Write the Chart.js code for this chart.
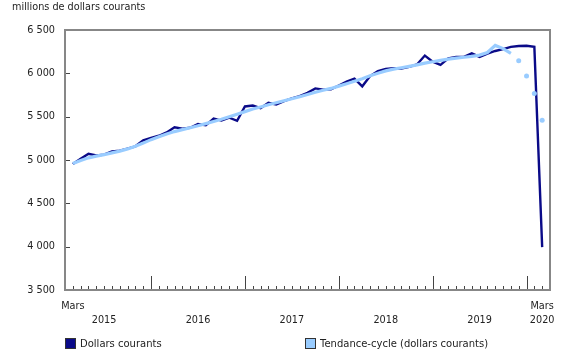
<!DOCTYPE html>
<html>
<head>
<meta charset="utf-8">
<script src="https://cdn.jsdelivr.net/npm/chart.js@4.4.0/dist/chart.umd.min.js"></script>
<style>
  body { margin: 0; background: #fff; font-family: "DejaVu Sans", Verdana, sans-serif; color: #222; }
  #wrap { position: relative; width: 580px; height: 360px; }
  #chart { position: absolute; left: 0; top: 0; }
  #unit { position: absolute; left: 12px; top: 1px; font-size: 9.7px; }
  .leg { position: absolute; top: 338px; font-size: 10px; display: flex; align-items: center; }
  .leg .box { width: 11px; height: 11px; border: 1px solid #333; box-sizing: border-box; margin-right: 4px; }
</style>
</head>
<body>
<div id="wrap">
  <canvas id="chart" width="580" height="360"></canvas>
  <div id="unit">millions de dollars courants</div>
  <div class="leg" style="left:65px"><span class="box" style="background:#0a0a88"></span>Dollars courants</div>
  <div class="leg" style="left:305px"><span class="box" style="background:#99ccff"></span>Tendance-cycle (dollars courants)</div>
</div>
<script>
// mois : index 0 = mars 2015 ... index 60 = mars 2020
const dollarsCourants = [
  4955, 5013, 5072, 5052, 5062, 5098, 5108, 5132, 5158, 5228,
  5255, 5280, 5318, 5378, 5362, 5372, 5416, 5400, 5478, 5455, 5488, 5452,
  5618, 5628, 5598, 5660, 5640, 5680, 5710, 5736, 5775, 5826, 5812, 5815,
  5860, 5905, 5940, 5850, 5968, 6025, 6052, 6058, 6055, 6075, 6102, 6205,
  6135, 6098, 6172, 6188, 6190, 6230, 6190, 6228, 6258, 6280, 6305, 6316,
  6318, 6305, 3995
];
// tendance-cycle, partie en trait plein (mars 2015 - octobre 2019)
const tendanceCycle = [
  4960, 4995, 5025, 5045, 5062, 5082, 5102, 5128, 5158, 5195,
  5235, 5268, 5300, 5328, 5350, 5372, 5395, 5420, 5445, 5470, 5498, 5528,
  5558, 5588, 5612, 5638, 5660, 5684, 5706, 5730, 5756, 5782, 5804, 5826,
  5852, 5880, 5908, 5938, 5972, 6002, 6028, 6048, 6064, 6080, 6098, 6118,
  6134, 6150, 6164, 6175, 6186, 6196, 6210, 6240, 6322, 6285, 6230
];
// tendance-cycle, derniers points (novembre 2019 - mars 2020)
const tendanceFin = [6144, 5970, 5766, 5460];

const yTicks = [3500, 4000, 4500, 5000, 5500, 6000, 6500];
const xTickPos = [0, 4, 16, 28, 40, 52, 60];
const xTickMois = ['Mars', '', '', '', '', '', 'Mars'];
const xTickAnnee = ['', '2015', '2016', '2017', '2018', '2019', '2020'];
const janvier = [10, 22, 34, 46, 58];

const NAVY = '#0a0a88';
const LIGHT = '#99ccff';
const AXIS = '#878787';

const toPts = (arr, start) => arr.map((v, i) => ({ x: start + i, y: v }));

// cadre + petites graduations vers l'intérieur
const framePlugin = {
  id: 'frame',
  afterDatasetsDraw(chart) {
    const { ctx, chartArea: a, scales: { x, y } } = chart;
    ctx.save();
    ctx.strokeStyle = '#444';
    ctx.lineWidth = 1;
    for (let i = 0; i <= 60; i++) {
      const px = Math.round(x.getPixelForValue(i)) + 0.5;
      const len = janvier.includes(i) ? 14 : 4;
      ctx.beginPath();
      ctx.moveTo(px, a.bottom);
      ctx.lineTo(px, a.bottom - len);
      ctx.stroke();
    }
    yTicks.forEach(v => {
      const py = Math.round(y.getPixelForValue(v)) + 0.5;
      ctx.beginPath();
      ctx.moveTo(a.left, py);
      ctx.lineTo(a.left + 5, py);
      ctx.stroke();
    });
    ctx.strokeStyle = AXIS;
    ctx.lineWidth = 2;
    ctx.strokeRect(a.left, a.top, a.right - a.left, a.bottom - a.top);
    ctx.restore();
  }
};

const font = { family: "'DejaVu Sans', Verdana, sans-serif", size: 9.7 };

new Chart(document.getElementById('chart'), {
  type: 'line',
  data: {
    datasets: [
      {
        label: 'Tendance-cycle (dollars courants)',
        data: toPts(tendanceCycle, 0),
        borderColor: LIGHT,
        borderWidth: 3.2,
        pointRadius: 0,
        tension: 0,
        order: 0
      },
      {
        label: 'Tendance-cycle (fin)',
        data: toPts(tendanceFin, 57),
        showLine: false,
        pointRadius: 2.5,
        pointBackgroundColor: LIGHT,
        pointBorderWidth: 0,
        order: 0
      },
      {
        label: 'Dollars courants',
        data: toPts(dollarsCourants, 0),
        borderColor: NAVY,
        borderWidth: 2.4,
        pointRadius: 0,
        tension: 0,
        order: 1
      }
    ]
  },
  options: {
    responsive: false,
    animation: false,
    layout: { padding: { top: 30, right: 30, left: 0, bottom: 0 } },
    plugins: { legend: { display: false }, tooltip: { enabled: false } },
    scales: {
      x: {
        type: 'linear',
        min: -1,
        max: 61,
        afterFit: s => { s.height = 70; },
        afterBuildTicks: s => { s.ticks = xTickPos.map(v => ({ value: v })); },
        grid: { display: false, drawTicks: false },
        border: { display: false },
        ticks: {
          autoSkip: false,
          maxRotation: 0,
          minRotation: 0,
          padding: 9,
          color: '#222',
          font: { ...font, lineHeight: '14.5px' },
          callback: v => {
            const k = xTickPos.indexOf(v);
            return k < 0 ? '' : [xTickMois[k], xTickAnnee[k]];
          }
        }
      },
      y: {
        min: 3500,
        max: 6500,
        afterFit: s => { s.width = 65; },
        afterBuildTicks: s => { s.ticks = yTicks.map(v => ({ value: v })); },
        grid: { display: false, drawTicks: false },
        border: { display: false },
        ticks: {
          padding: 10,
          color: '#222',
          font: font,
          callback: v => String(v).replace(/\B(?=(\d{3})+$)/, ' ')
        }
      }
    }
  },
  plugins: [framePlugin]
});
</script>
</body>
</html>
